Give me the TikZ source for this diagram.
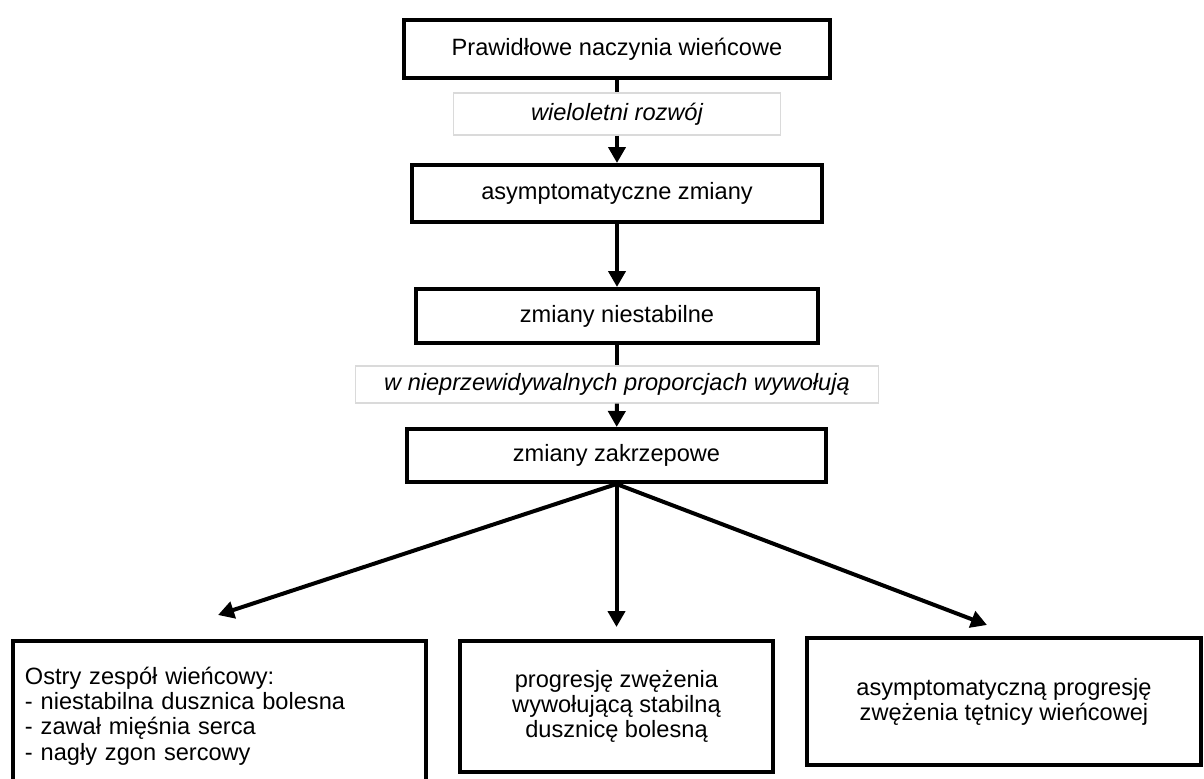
\documentclass[tikz,border=0pt]{standalone}
\usepackage{fontspec}
\setmainfont{Liberation Sans}
\usepackage{tikz}
\usetikzlibrary{arrows.meta}
\definecolor{lblgray}{RGB}{218,218,218}

\tikzset{
	box/.style={draw=black, line width=2pt, fill=white, align=center, inner sep=0pt},
	lbl/.style={draw=lblgray, line width=0.6pt, fill=white, inner sep=0pt, font=\fontsize{11.8}{12.6}\selectfont\itshape},
	arr/.style={line width=2pt, -{Triangle[length=8pt,width=8.5pt]}},
	ln/.style={line width=2pt},
}

\begin{document}
\begin{tikzpicture}[x=0.5pt, y=-0.5pt, font=\fontsize{11.8}{12.6}\selectfont]
	\useasboundingbox (0,0) rectangle (1204,778);
	
	\node[box, minimum width=213pt, minimum height=29pt] (norm) at (617,49) {Prawidłowe naczynia wieńcowe};
	\node[lbl, minimum width=163.5pt, minimum height=21pt] (rozwoj) at (617,114) {wieloletni rozwój};
	\node[box, minimum width=205pt, minimum height=28.5pt] (asym) at (617,193.5) {asymptomatyczne zmiany};
	\node[box, minimum width=201pt, minimum height=27pt] (niestab) at (617,316) {zmiany niestabilne};
	\node[lbl, minimum width=261.5pt, minimum height=18.5pt] (wywol) at (617,384.5) {w nieprzewidywalnych proporcjach wywołują};
	\node[box, minimum width=209.5pt, minimum height=26.5pt] (zakrz) at (616.5,455.5) {zmiany zakrzepowe};
	
	\node[box, align=left, text width=194.5pt, inner xsep=6pt, minimum height=75pt] (ozw) at (219.5,716)
		{Ostry zespół wieńcowy:\\- niestabilna dusznica bolesna\\- zawał mięśnia serca\\- nagły zgon sercowy};
	\node[box, minimum width=156.5pt, minimum height=65.5pt] (stab) at (616.5,706.5)
		{progresję zwężenia\\wywołującą stabilną\\dusznicę bolesną};
	\node[box, minimum width=197pt, minimum height=63.5pt] (progr) at (1004,701.5)
		{asymptomatyczną progresję\\zwężenia tętnicy wieńcowej};
	
	\coordinate (tipL) at (218,615);
	\coordinate (tipM) at (616.5,627);
	\coordinate (tipR) at (987,625);
	
	\draw[ln] (norm) -- (rozwoj);
	\draw[arr] (rozwoj) -- (asym);
	\draw[arr] (asym) -- (niestab);
	\draw[ln] (niestab) -- (wywol);
	\draw[arr] (wywol) -- (zakrz);
	
	\draw[arr] (zakrz.south) -- (tipL);
	\draw[arr] (zakrz.south) -- (tipM);
	\draw[arr] (zakrz.south) -- (tipR);
\end{tikzpicture}
\end{document}
